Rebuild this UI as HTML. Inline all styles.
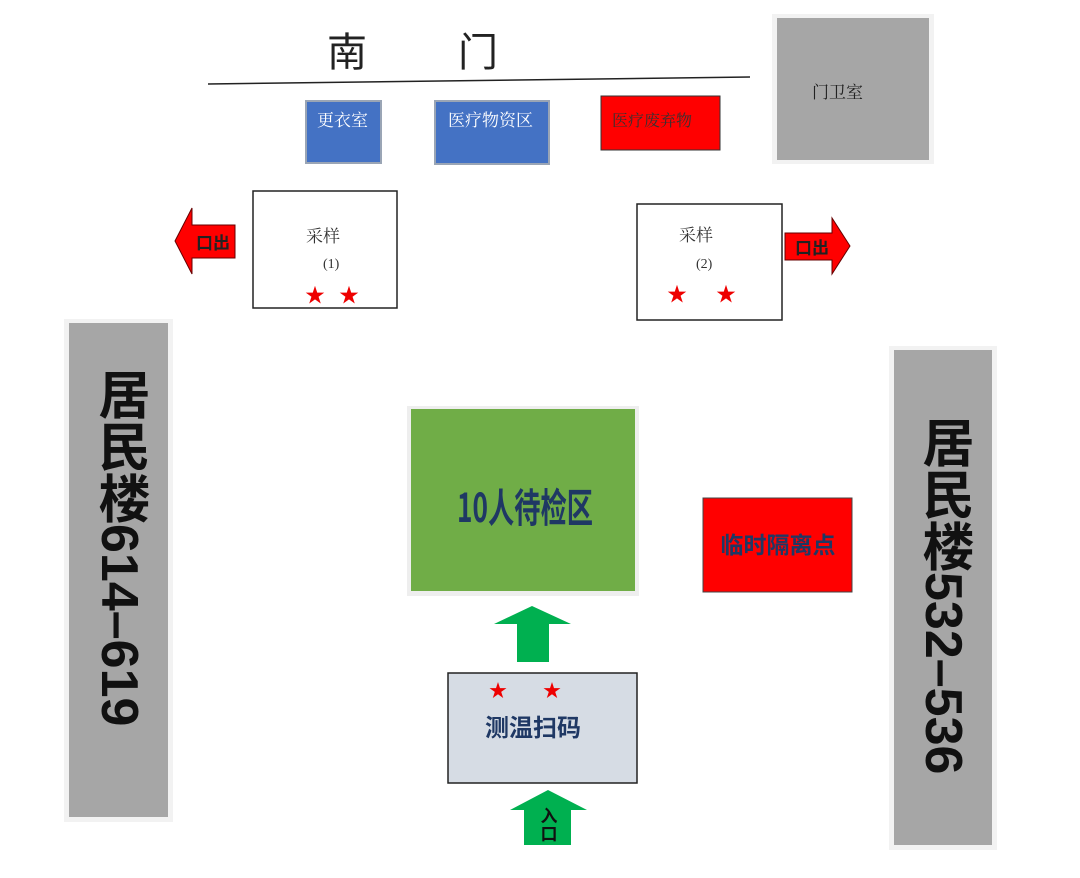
<!DOCTYPE html>
<html><head><meta charset="utf-8"><style>
html,body{margin:0;padding:0;background:#fff;}
body{width:1080px;height:878px;position:relative;overflow:hidden;font-family:"Liberation Serif","Noto Serif CJK SC",serif;}
.a{position:absolute;box-sizing:border-box;}
.vt{writing-mode:vertical-rl;font-family:"Liberation Sans","Noto Sans CJK SC",sans-serif;font-weight:bold;font-size:52px;color:#111;position:absolute;line-height:1;}
</style></head><body>
<svg class="a" style="left:0;top:0" width="1080" height="878">
<line x1="208" y1="84" x2="750" y2="77" stroke="#222" stroke-width="1.5"/>
<text x="327" y="66" font-size="40" font-family="Noto Sans CJK SC,sans-serif" fill="#222">南</text>
<text x="458" y="66" font-size="40" font-family="Noto Sans CJK SC,sans-serif" fill="#222">门</text>
<rect x="772" y="14" width="162" height="150" fill="#f2f2f2"/>
<rect x="777" y="18" width="152" height="142" fill="#a6a6a6"/>
<text x="812" y="98" font-size="17" font-family="Noto Serif CJK SC,serif" fill="#222">门卫室</text>
<rect x="306" y="101" width="75" height="62" fill="#4472c4" stroke="#9aa5b5" stroke-width="2"/>
<text x="317" y="126" font-size="17" font-family="Noto Serif CJK SC,serif" fill="#fff">更衣室</text>
<rect x="435" y="101" width="114" height="63" fill="#4472c4" stroke="#9aa5b5" stroke-width="2"/>
<text x="448" y="126" font-size="17" font-family="Noto Serif CJK SC,serif" fill="#fff">医疗物资区</text>
<rect x="601" y="96" width="119" height="54" fill="#ff0000" stroke="#333" stroke-width="1"/>
<text x="612" y="126" font-size="16" font-family="Noto Serif CJK SC,serif" fill="#333">医疗废弃物</text>
<rect x="253" y="191" width="144" height="117" fill="#fff" stroke="#222" stroke-width="1.5"/>
<text x="306" y="242" font-size="17" font-family="Noto Serif CJK SC,serif" fill="#333">采样</text>
<text x="323" y="268" font-size="14" fill="#333">(1)</text>
<text x="305" y="302" font-size="20" fill="#e00">★</text>
<text x="339" y="302" font-size="20" fill="#e00">★</text>
<rect x="637" y="204" width="145" height="116" fill="#fff" stroke="#222" stroke-width="1.5"/>
<text x="679" y="241" font-size="17" font-family="Noto Serif CJK SC,serif" fill="#333">采样</text>
<text x="696" y="268" font-size="14" fill="#333">(2)</text>
<text x="667" y="301" font-size="20" fill="#e00">★</text>
<text x="716" y="301" font-size="20" fill="#e00">★</text>
<polygon points="175,241 192,208 192,225 235,225 235,258 192,258 192,274" fill="#f00" stroke="#600" stroke-width="1"/>
<text x="-230" y="249" transform="scale(-1,1)" font-size="17" font-weight="bold" font-family="Noto Sans CJK SC,sans-serif" fill="#222">出口</text>
<polygon points="850,246 832,218 832,233 785,233 785,260 832,260 832,274" fill="#f00" stroke="#600" stroke-width="1"/>
<text x="-829" y="254" transform="scale(-1,1)" font-size="17" font-weight="bold" font-family="Noto Sans CJK SC,sans-serif" fill="#222">出口</text>
<rect x="64" y="319" width="109" height="503" fill="#f2f2f2"/>
<rect x="69" y="323" width="99" height="494" fill="#a6a6a6"/>
<rect x="889" y="346" width="108" height="504" fill="#f2f2f2"/>
<rect x="894" y="350" width="98" height="495" fill="#a6a6a6"/>
<rect x="407" y="406" width="232" height="190" fill="#eee"/>
<rect x="411" y="409" width="224" height="182" fill="#70ad47"/>
<text x="525" y="522" text-anchor="middle" font-size="40" font-weight="bold" font-family="Liberation Sans Narrow,Noto Sans CJK SC,sans-serif" fill="#1f3864" textLength="136" lengthAdjust="spacingAndGlyphs">10人待检区</text>
<rect x="703" y="498" width="149" height="94" fill="#ff0000" stroke="#444" stroke-width="1"/>
<text x="778" y="553" text-anchor="middle" font-size="23" font-weight="bold" font-family="Noto Sans CJK SC,sans-serif" fill="#1f3864">临时隔离点</text>
<polygon points="532,606 571,624 549,624 549,662 517,662 517,624 494,624" fill="#00b050"/>
<rect x="448" y="673" width="189" height="110" fill="#d6dce4" stroke="#222" stroke-width="1.5"/>
<text x="489" y="697" font-size="18" fill="#e00">★</text>
<text x="543" y="697" font-size="18" fill="#e00">★</text>
<text x="533" y="736" text-anchor="middle" font-size="24" font-weight="bold" font-family="Noto Sans CJK SC,sans-serif" fill="#1f3864">测温扫码</text>
<polygon points="548,790 587,810 571,810 571,845 524,845 524,810 510,810" fill="#00b050"/>
<text x="549" y="822" text-anchor="middle" font-size="17" font-weight="bold" font-family="Noto Sans CJK SC,sans-serif" fill="#111">入</text>
<text x="549" y="840" text-anchor="middle" font-size="17" font-weight="bold" font-family="Noto Sans CJK SC,sans-serif" fill="#111">口</text>
</svg>
<div class="vt" style="left:93px;top:368px;">居民楼614–619</div>
<div class="vt" style="left:917px;top:416px;">居民楼532–536</div>
</body></html>
